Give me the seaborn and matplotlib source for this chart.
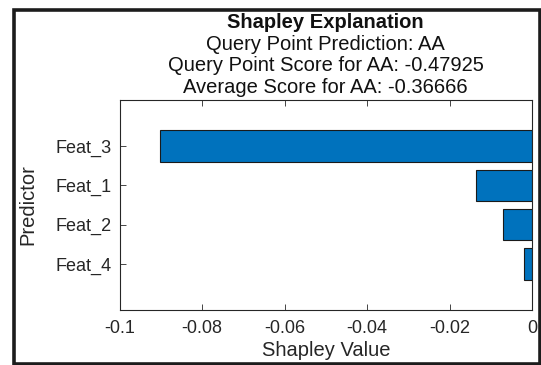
import matplotlib
matplotlib.use("Agg")
import matplotlib.pyplot as plt
import matplotlib.patches as patches
import seaborn as sns
import pandas as pd

# values
predictors = ["Feat_3", "Feat_1", "Feat_2", "Feat_4"]
shapley_values = [-0.0902, -0.0136, -0.0071, -0.0019]
x_ticks = [-0.1, -0.08, -0.06, -0.04, -0.02, 0]
title_lines = [
    "Shapley Explanation",
    "Query Point Prediction: AA",
    "Query Point Score for AA: -0.47925",
    "Average Score for AA: -0.36666",
]

sns.set_theme(style="white")
plt.rcParams["font.family"] = ["Liberation Sans", "DejaVu Sans"]

df = pd.DataFrame({"Predictor": predictors, "Shapley Value": shapley_values})

fig = plt.figure(figsize=(5.41, 3.65), dpi=100)
ax = fig.add_axes([119.5 / 541, 55 / 365, 412.5 / 541, 210 / 365])

sns.barplot(data=df, x="Shapley Value", y="Predictor", orient="h",
            color="#0072BD", saturation=1, width=0.8,
            edgecolor="#1a1a1a", linewidth=0.8, ax=ax)

ax.set_xlim(-0.1, 0)
ax.set_ylim(4.17, -1.17)
ax.set_xticks(x_ticks)
ax.set_xticklabels([f"{v:g}" for v in x_ticks])

# MATLAB-like box with inward ticks on all sides
for side in ["top", "right", "bottom", "left"]:
    ax.spines[side].set_visible(True)
    ax.spines[side].set_color("#262626")
    ax.spines[side].set_linewidth(0.8)
ax.tick_params(axis="both", direction="in", length=4, width=0.6,
               color="#262626", labelsize=13, labelcolor="#262626",
               top=True, right=True, bottom=True, left=True,
               labeltop=False, labelright=False)
ax.tick_params(axis="x", pad=7)
ax.tick_params(axis="y", pad=6)

ax.set_xlabel("Shapley Value", fontsize=14.5, color="#262626", va="top")
ax.set_ylabel("Predictor", fontsize=14.5, color="#262626")
ax.xaxis.set_label_coords(0.5, -0.148)
ax.yaxis.set_label_coords(-0.198, 0.5)

# title block: bold first line, then three plain lines
title_y = [1.345, 1.240, 1.136, 1.033]
for i, (line, yy) in enumerate(zip(title_lines, title_y)):
    ax.text(0.5, yy, line, transform=ax.transAxes, ha="center", va="baseline",
            fontsize=14.5, color="#111111",
            fontweight="bold" if i == 0 else "normal")

# dark frame around the figure
frame = patches.Rectangle((14 / 541, 1.5 / 365), 525.5 / 541, 354 / 365,
                          transform=fig.transFigure, fill=False,
                          edgecolor="#1c1c1c", linewidth=2.6)
fig.patches.append(frame)

fig.savefig("out.png", dpi=100)
